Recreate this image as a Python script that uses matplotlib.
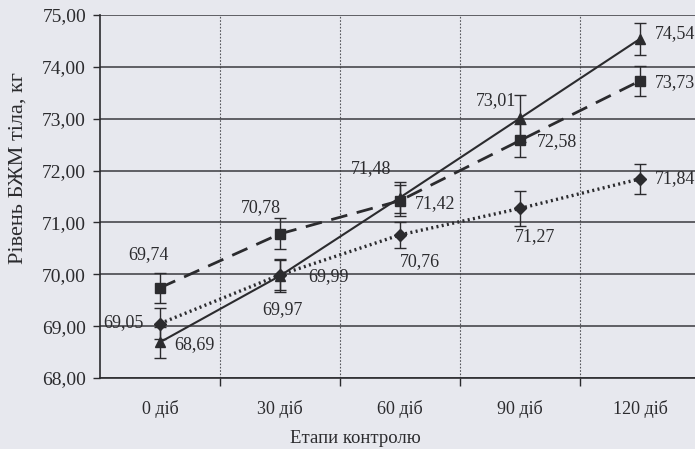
import matplotlib
matplotlib.use("Agg")
import matplotlib.pyplot as plt
import numpy as np

# Stages of control and body-weight values (kg) for three groups
stages = ["0 діб", "30 діб", "60 діб", "90 діб", "120 діб"]

solid_vals = [68.69, 69.97, 71.48, 73.01, 74.54]
solid_err = [0.30, 0.31, 0.30, 0.45, 0.31]

dashed_vals = [69.74, 70.78, 71.42, 72.58, 73.73]
dashed_err = [0.29, 0.30, 0.30, 0.31, 0.29]

dotted_vals = [69.05, 69.99, 70.76, 71.27, 71.84]
dotted_err = [0.30, 0.30, 0.25, 0.33, 0.29]

y_ticks = [68, 69, 70, 71, 72, 73, 74, 75]

# label offsets in points (dx, dy) and horizontal alignment
solid_lbl = [((10, -2), "left"), ((2, -24), "center"), ((-21, 21), "center"),
             ((-17, 13), "center"), ((11, 4), "left")]
dashed_lbl = [((-8, 24), "center"), ((-14, 19), "center"), ((11, -2), "left"),
              ((12, -1), "left"), ((11, -1), "left")]
dotted_lbl = [((-12, 1), "right"), ((20, -1), "left"), ((14, -19), "center"),
              ((11, -20), "center"), ((11, 0), "left")]

plt.rcParams["font.family"] = ["Liberation Serif", "DejaVu Serif"]

bg = "#e7e8ee"
ink = "#2b2b2e"

fig = plt.figure(figsize=(6.95, 4.49), dpi=100, facecolor=bg)
ax = fig.add_axes([100 / 695, 71 / 449, 600 / 695, 363 / 449])
ax.set_facecolor(bg)

x = np.arange(len(stages))

common = dict(color=ink, ecolor=ink, elinewidth=1.0, capsize=4, capthick=1.0,
              markersize=7, zorder=3)

ax.errorbar(x, solid_vals, yerr=solid_err, fmt="^", linestyle="-", lw=1.5, **common)
ax.errorbar(x, dashed_vals, yerr=dashed_err, fmt="s", linestyle=(0, (6, 3.5)), lw=2.0,
            **common)
ax.errorbar(x, dotted_vals, yerr=dotted_err, fmt="D", linestyle=(0, (0.6, 1.0)), lw=2.4,
            **{**common, "markersize": 6.5})


def fmt(v):
    return f"{v:.2f}".replace(".", ",")


for vals, lbls in ((solid_vals, solid_lbl), (dashed_vals, dashed_lbl),
                   (dotted_vals, dotted_lbl)):
    for xi, v, ((dx, dy), ha) in zip(x, vals, lbls):
        ax.annotate(fmt(v), (xi, v), xytext=(dx, dy), textcoords="offset points",
                    ha=ha, va="center", fontsize=13, color=ink, zorder=4)

ax.set_xlim(-0.5, len(stages) - 0.5)
ax.set_ylim(68, 75)
ax.set_yticks(y_ticks)
ax.set_yticklabels([fmt(t) for t in y_ticks], fontsize=14, color=ink)
ax.set_xticks(x)
ax.set_xticklabels(stages, fontsize=13, color=ink)
ax.set_xticks(np.arange(0.5, len(stages) - 0.5, 1.0), minor=True)

ax.tick_params(axis="x", which="major", length=0, pad=16)
ax.tick_params(axis="x", which="minor", length=6, width=1.0, color=ink, direction="out")
ax.tick_params(axis="y", which="major", length=5, width=1.0, color=ink, pad=5)

ax.grid(axis="y", which="major", color="#3a3a3e", lw=1.1)
ax.grid(axis="x", which="minor", color="#55555a", lw=0.8, linestyle=(0, (1.5, 1.5)))
ax.set_axisbelow(True)

for side in ("top", "right"):
    ax.spines[side].set_visible(False)
for side in ("left", "bottom"):
    ax.spines[side].set_color(ink)
    ax.spines[side].set_linewidth(1.2)

ax.set_xlabel("Етапи контролю", fontsize=13.5, color=ink)
ax.xaxis.set_label_coords(255 / 600, -52 / 363)
ax.set_ylabel("Рівень БЖМ тіла, кг", fontsize=16, color=ink)
ax.yaxis.set_label_coords(-72 / 600, (378 - 168) / 363)

fig.savefig("out.png", dpi=100, facecolor=bg)
